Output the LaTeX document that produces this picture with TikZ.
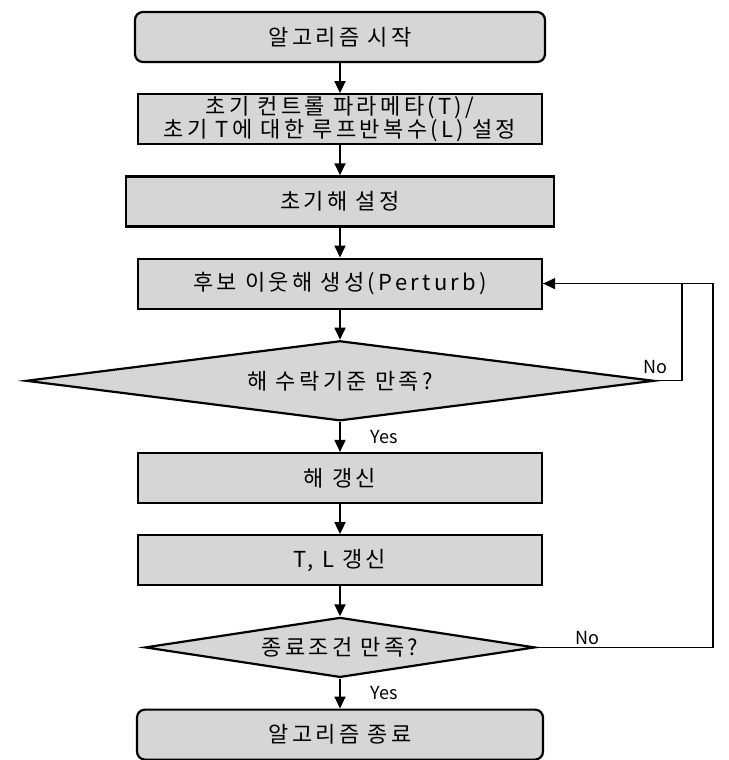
\documentclass[tikz,border=0pt]{standalone}
\usepackage{fontspec}
\setmainfont{Noto Sans CJK KR}[LetterSpace=15]
\newfontfamily\lblfont{Noto Sans CJK KR}
\usetikzlibrary{positioning, shapes.geometric, arrows.meta}

\begin{document}
\begin{tikzpicture}[
    node distance=30pt,
    procbox/.style={
        rectangle,
        draw=black, line width=2.2pt,
        fill=black!16,
        minimum width=404pt,
        minimum height=50pt,
        inner sep=0pt,
        align=center,
        font=\fontsize{22}{22}\selectfont
    },
    termbox/.style={procbox, rounded corners=8pt, minimum width=410pt},
    decide/.style={
        diamond, aspect=4,
        draw=black, line width=2.2pt,
        fill=black!16,
        inner sep=0pt,
        font=\fontsize{22}{22}\selectfont
    },
    flow/.style={-{Triangle[length=12pt,width=11pt]}, line width=1.8pt},
    loopline/.style={line width=1.3pt},
    lbl/.style={font=\lblfont\fontsize{18}{20}\selectfont, inner sep=2pt}
]

\useasboundingbox (0,0) rectangle (728pt,-760pt);

\node[termbox] (start) at (340pt,-37pt) {알고리즘 시작};
\node[procbox, below=of start] (param) {초기 컨트롤 파라메타(T)/\\초기 T에 대한 루프반복수(L) 설정};
\node[procbox, below=of param, minimum width=428pt] (init) {초기해 설정};
\node[procbox, below=of init] (perturb) {후보 이웃해 생성(Perturb)};
\node[decide, below=of perturb, minimum width=628pt, minimum height=80pt] (accept) {해 수락기준 만족?};
\node[procbox, below=of accept] (update) {해 갱신};
\node[procbox, below=of update] (tl) {T, L 갱신};
\node[decide, below=of tl, minimum width=390pt, minimum height=60pt] (stop) {종료조건 만족?};
\node[termbox, below=of stop, minimum width=406pt] (finish) {알고리즘 종료};

\draw[flow] (start) -- (param);
\draw[flow] (param) -- (init);
\draw[flow] (init) -- (perturb);
\draw[flow] (perturb) -- (accept);
\draw[flow] (accept) -- node[lbl, right=28pt] {Yes} (update);
\draw[flow] (update) -- (tl);
\draw[flow] (tl) -- (stop);
\draw[flow] (stop) -- node[lbl, right=28pt] {Yes} (finish);

% feedback loops
\draw[loopline, -{Triangle[length=12pt,width=11pt]}] (accept.east) -- ++(27pt,0) |- (perturb.east);
\draw[loopline] (stop.east) -- node[lbl, pos=0.29, above] {No} ++(177pt,0) |- (perturb.east);
\node[lbl, above=5pt of accept.east] (no1) {No};

\end{tikzpicture}
\end{document}
